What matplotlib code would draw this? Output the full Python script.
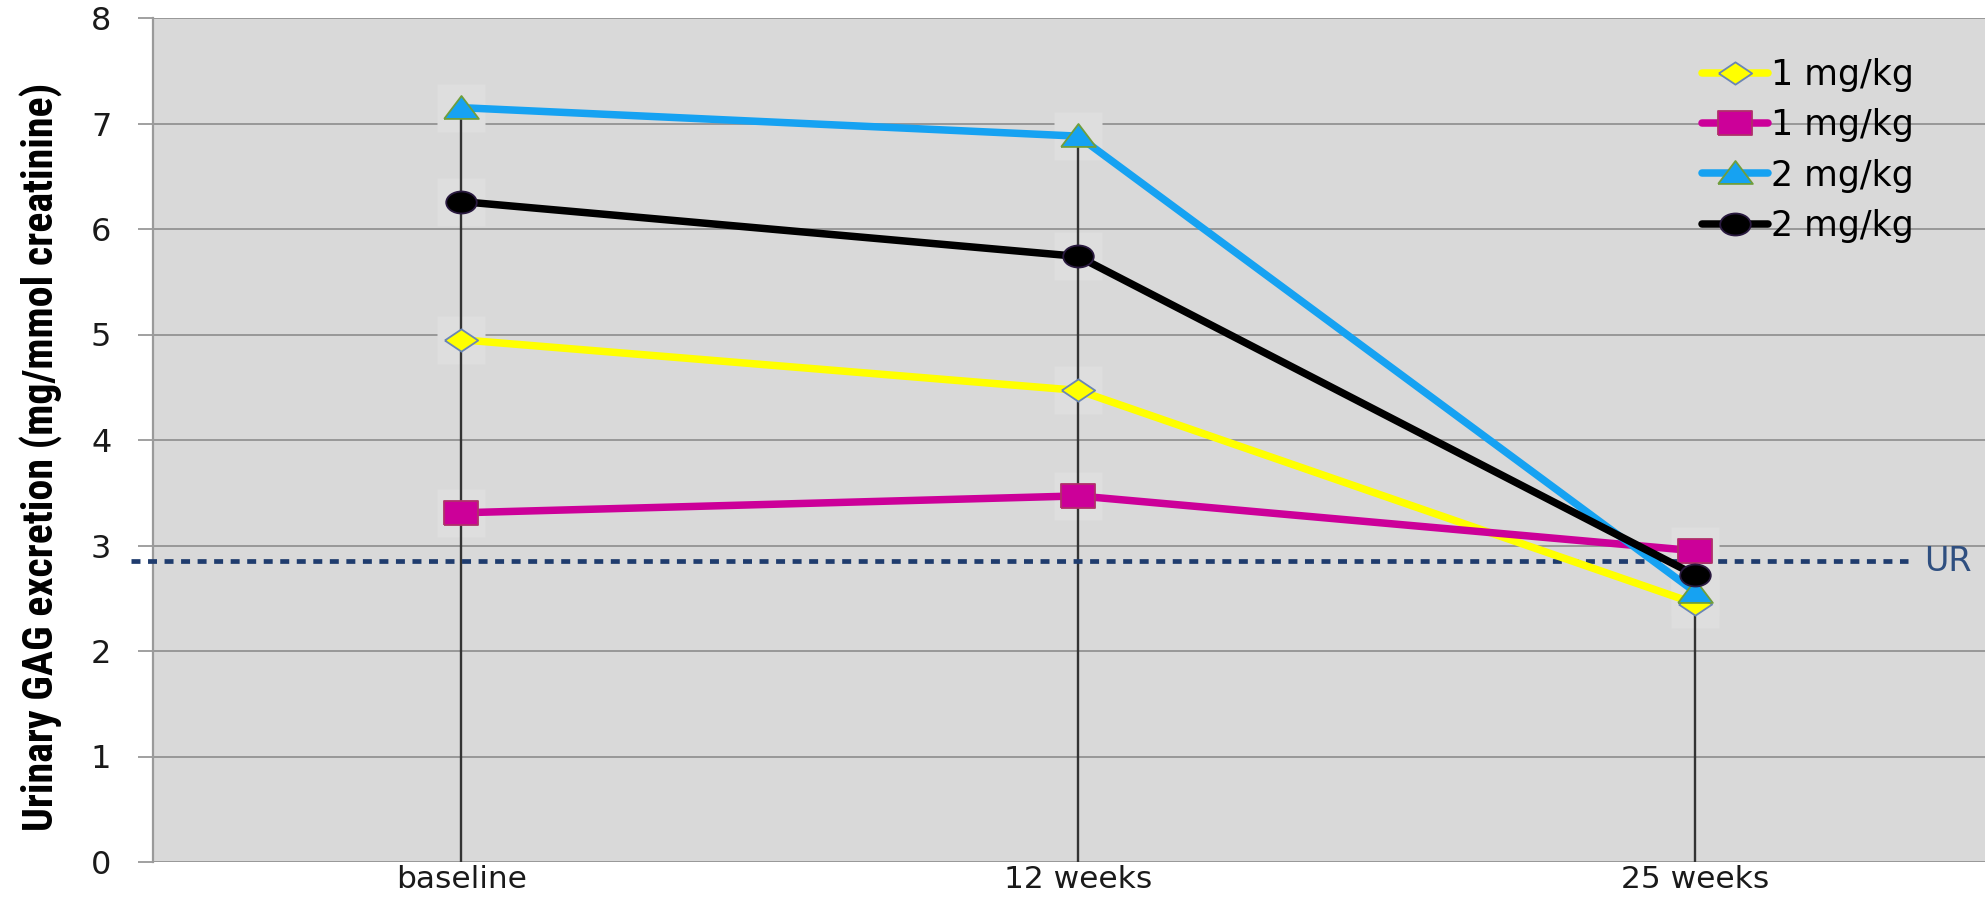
import numpy as np
import matplotlib
matplotlib.use("Agg")
import matplotlib.pyplot as plt
from matplotlib.path import Path
from matplotlib import font_manager

# data
categories = ["baseline", "12 weeks", "25 weeks"]
labels = ["1 mg/kg", "1 mg/kg", "2 mg/kg", "2 mg/kg"]
yellow_vals = [4.95, 4.47, 2.45]
magenta_vals = [3.31, 3.47, 2.95]
blue_vals = [7.15, 6.88, 2.56]
black_vals = [6.26, 5.74, 2.72]
ur_level = 2.85
yticks = [0, 1, 2, 3, 4, 5, 6, 7, 8]

# narrow font for the y label if one is installed
names = {f.name for f in font_manager.fontManager.ttflist}
narrow = "DejaVu Sans"
for cand in ["Liberation Sans Narrow", "Roboto Condensed", "Open Sans Condensed",
             "DejaVu Sans Condensed", "Noto Sans Condensed", "Arial Narrow"]:
    if cand in names:
        narrow = cand
        break

# squashed marker shapes (the original picture is stretched sideways)
diamond = [(-1, 0), (0, 0.67), (1, 0), (0, -0.67), (-1, 0)]
square = [(-1, -0.68), (1, -0.68), (1, 0.68), (-1, 0.68), (-1, -0.68)]
triangle = [(-1, -0.6), (1, -0.6), (0, 0.72), (-1, -0.6)]
circ = Path.unit_circle()
ellipse = Path(circ.vertices * np.array([1.0, 0.72]), circ.codes)

series = [
    (yellow_vals, "#ffff00", diamond, "#ffff00", "#6a85b6", 24),
    (magenta_vals, "#cc0099", square, "#cc0099", "#b0306a", 25),
    (blue_vals, "#16a2f2", triangle, "#16a2f2", "#6f9e3c", 25),
    (black_vals, "#000000", ellipse, "#000000", "#2a1a40", 22),
]

fig = plt.figure(figsize=(19.85, 9.02), dpi=100)
ax = fig.add_axes([153/1985, 40/902, 1 - 153/1985, 844/902])
ax.set_facecolor("#d9d9d9")

x = np.arange(len(categories))

# drop lines from each category up to its highest point
tops = np.max([yellow_vals, magenta_vals, blue_vals, black_vals], axis=0)
ax.vlines(x, 0, tops, color="#333333", lw=1.7, zorder=3)

# faint glow behind markers
for vals, *_ in series:
    ax.plot(x, vals, ls="none", marker="s", ms=34, mfc="#dedede", mec="none", zorder=2)

for i, (vals, col, mk, fc, ec, ms) in enumerate(series):
    ax.plot(x, vals, color=col, lw=5.4, marker=mk, ms=ms, mfc=fc, mec=ec, mew=1.3,
            label=labels[i], zorder=5 + i, solid_capstyle="round")

# upper reference line
ax.plot([-0.535, 2.345], [ur_level, ur_level], color="#1f3c6e", lw=3.4,
        ls=(0, (1.9, 1.6)), dash_capstyle="butt", clip_on=False, zorder=4)
ax.text(2.372, ur_level, "UR", color="#2f4f80", fontsize=24, va="center", ha="left",
        clip_on=False)

ax.set_xlim(-0.5, 2.47)
ax.set_ylim(0, 8)
ax.set_yticks(yticks)
ax.set_xticks(x)
ax.set_xticklabels(categories)
ax.grid(axis="y", color="#868686", lw=1.1, zorder=1)
ax.set_axisbelow(True)
for s in ["top", "right", "bottom"]:
    ax.spines[s].set_visible(False)
ax.spines["left"].set_color("#9a9a9a")
ax.spines["left"].set_linewidth(1.6)
ax.tick_params(axis="y", length=11, color="#868686", width=1.1, labelsize=23, pad=19,
               labelcolor="#1a1a1a")
ax.tick_params(axis="x", length=0, labelsize=22.5, pad=2, labelcolor="#1a1a1a")

ylab = fig.text(41/1985, 1 - 457/902, "Urinary GAG excretion (mg/mmol creatinine)",
                rotation=90, ha="center", va="center", fontsize=28, fontweight="bold",
                family=[narrow, "DejaVu Sans"])
# shrink the label until it spans the same height as in the chart
fig.canvas.draw()
r = fig.canvas.get_renderer()
h = ylab.get_window_extent(r).height
ylab.set_fontsize(28 * 750 / h)

leg = ax.legend(loc="upper left", bbox_to_anchor=(1702/1985, 1 - 58/902),
                bbox_transform=fig.transFigure, frameon=False, fontsize=25,
                handlelength=1.9, handletextpad=0.08, labelspacing=0.47,
                borderpad=0, borderaxespad=0)

fig.savefig("out.png", dpi=100)
